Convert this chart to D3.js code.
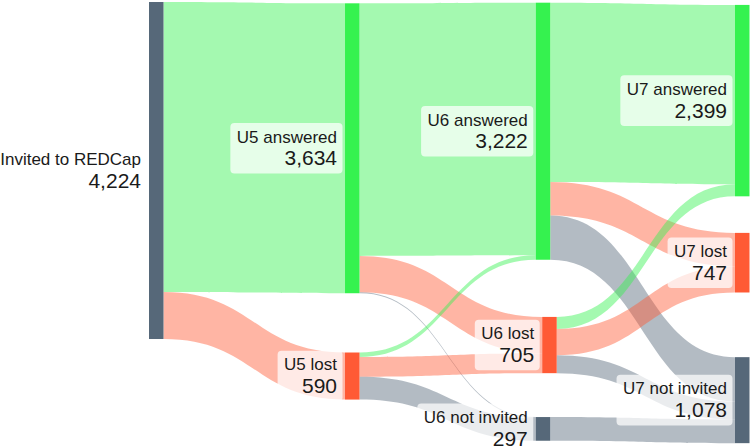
<!DOCTYPE html>
<html lang="en">
<head>
  <meta charset="UTF-8">
  <title>REDCap follow-up</title>
  <script src="https://d3js.org/d3.v7.min.js"></script>
  <style>
    html, body {
      margin: 0;
      padding: 0;
      background-color: #ffffff;
    }
    svg {
      display: block;
      font-family: "Liberation Sans", Arial, Helvetica, sans-serif;
    }
  </style>
</head>
<body>
<svg id="chart" width="751" height="447"></svg>
<script>
  // nodes
  const nodeNames = ["Invited to REDCap", "U5 answered", "U5 lost", "U6 answered", "U6 lost",
    "U6 not invited", "U7 answered", "U7 lost", "U7 not invited"];
  const nodeGroups = ["notInvited", "answered", "lost", "answered", "lost",
    "notInvited", "answered", "lost", "notInvited"];
  const nodeValues = [4224, 3634, 590, 3222, 705, 297, 2399, 747, 1078];

  // links (index into nodeNames)
  const linkSource = [0, 0, 1, 1, 1, 2, 2, 2, 3, 3, 3, 4, 4, 4, 5];
  const linkTarget = [1, 2, 3, 4, 5, 3, 4, 5, 6, 7, 8, 6, 7, 8, 8];
  const linkValue = [3634, 590, 3167, 455, 12, 55, 250, 285, 2249, 417, 556, 150, 330, 225, 297];

  // hand arranged node positions (fractions of the plot box)
  const nodeX = [0, 0.3345, 0.3345, 0.66, 0.671, 0.66, 1, 1, 1];
  const nodeY = [0.0045, 0.0074, 0.7886, 0.006, 0.709, 0.933, 0.011, 0.521, 0.799];

  const colors = { notInvited: "#566879", answered: "#35f24f", lost: "#ff5a35" };
  const linkOpacity = 0.45;
  const nodeWidth = 14.5;

  const svg = d3.select("#chart");
  const height = +svg.attr("height");

  const xScale = d3.scaleLinear().domain([0, 1]).range([149, 735]);
  const yScale = d3.scaleLinear().domain([0, 1]).range([0, height]);
  const hScale = d3.scaleLinear().domain([0, d3.max(nodeValues)]).range([0, 337]);

  const nodes = nodeNames.map((name, i) => ({
    name, group: nodeGroups[i], value: nodeValues[i],
    x0: xScale(nodeX[i]), x1: xScale(nodeX[i]) + nodeWidth,
    y0: yScale(nodeY[i]), y1: yScale(nodeY[i]) + hScale(nodeValues[i]),
    out: [], in: []
  }));

  const links = linkValue.map((v, i) => ({
    source: nodes[linkSource[i]], target: nodes[linkTarget[i]], value: v, width: hScale(v)
  }));
  links.forEach(l => { l.source.out.push(l); l.target.in.push(l); });

  // stack links on each node, ordered by the other end's position
  nodes.forEach(n => {
    let y = n.y0;
    n.out.sort((a, b) => a.target.y0 - b.target.y0).forEach(l => { l.y0 = y; y += l.width; });
    y = n.y0;
    n.in.sort((a, b) => a.source.y0 - b.source.y0).forEach(l => { l.y1 = y; y += l.width; });
  });

  function linkPath(l) {
    const x0 = l.source.x1, x1 = l.target.x0;
    const xm = d3.interpolateNumber(x0, x1)(0.5);
    const w = l.width;
    const p = d3.path();
    p.moveTo(x0, l.y0);
    p.bezierCurveTo(xm, l.y0, xm, l.y1, x1, l.y1);
    p.lineTo(x1, l.y1 + w);
    p.bezierCurveTo(xm, l.y1 + w, xm, l.y0 + w, x0, l.y0 + w);
    p.closePath();
    return p.toString();
  }

  svg.append("g").attr("class", "links")
    .selectAll("path").data(links).join("path")
    .attr("d", linkPath)
    .attr("fill", d => colors[d.target.group])
    .attr("fill-opacity", linkOpacity);

  svg.append("g").attr("class", "nodes")
    .selectAll("rect").data(nodes).join("rect")
    .attr("x", d => d.x0)
    .attr("y", d => d.y0)
    .attr("width", d => d.x1 - d.x0)
    .attr("height", d => d.y1 - d.y0)
    .attr("fill", d => colors[d.group]);

  const fmt = d3.format(",");
  const labels = svg.append("g").attr("class", "labels")
    .selectAll("g").data(nodes).join("g")
    .attr("transform", d => `translate(${d.x0 - 8},${(d.y0 + d.y1) / 2})`);

  const box = labels.append("rect")
    .attr("fill", "#ffffff")
    .attr("fill-opacity", 0.72)
    .attr("rx", 4);

  labels.append("text")
    .attr("text-anchor", "end")
    .attr("y", -5.7)
    .attr("font-size", 17)
    .attr("fill", "#1a1a1a")
    .text(d => d.name);

  labels.append("text")
    .attr("text-anchor", "end")
    .attr("y", 17)
    .attr("font-size", 21)
    .attr("fill", "#1a1a1a")
    .text(d => fmt(d.value));

  box.each(function () {
    const g = d3.select(this.parentNode);
    const w = d3.max(g.selectAll("text").nodes(), t => t.getComputedTextLength());
    d3.select(this)
      .attr("x", -w - 6.5)
      .attr("width", w + 12)
      .attr("y", -25.3)
      .attr("height", 50.6);
  });
</script>
</body>
</html>
